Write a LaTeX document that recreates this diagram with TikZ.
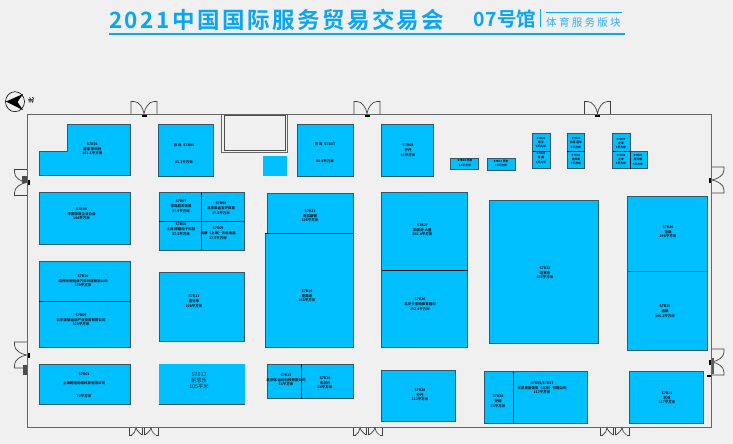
\documentclass[tikz,border=0pt]{standalone}
\usepackage{fontspec}
\setmainfont{Noto Sans CJK SC Bold}
\newfontfamily\cjkb[LetterSpace=11]{Noto Sans CJK SC Bold}
\newfontfamily\cjkc[LetterSpace=1]{Noto Sans CJK SC Bold}
\newfontfamily\cjkd[LetterSpace=22]{Noto Sans CJK SC}
\newfontfamily\cjkn{Noto Sans CJK SC}
\definecolor{bg}{HTML}{F0F0F0}
\definecolor{boothfill}{HTML}{00BFFF}
\definecolor{boothline}{HTML}{33566A}
\definecolor{titleblue}{HTML}{0AA5F5}
\definecolor{wallc}{HTML}{666666}
\tikzset{
  boothbox/.style={fill=boothfill,draw=boothline,line width=0.8pt},
  divider/.style={draw=black!80!boothline,line width=0.7pt},
  lab/.style={inner sep=0pt,align=center,text=black,font=\fontsize{3.5}{4.7}\selectfont},
  tinylab/.style={inner sep=0pt,align=center,text=black,font=\fontsize{2.8}{4.2}\selectfont},
  doorline/.style={draw=black!75,line width=0.7pt},
}
\newcommand{\dbldoor}[3]{%
  \begin{scope}[shift={(#1,#2)},rotate=#3]
    \draw[doorline] (-13,0) -- (-13,-13) -- (-10,-13) .. controls (-5,-13) and (-1,-7) .. (0,-1)
      .. controls (1,-7) and (5,-13) .. (10,-13) -- (13,-13) -- (13,0);
    \fill[black] (-2.5,0) rectangle (2.5,2.2);
  \end{scope}}
\newcommand{\botdoor}[2]{%
  \begin{scope}[shift={(#1,#2)}]
    \draw[doorline] (-14.5,0) -- (-14.5,7.5) -- (-12,7.5) (14.5,0) -- (14.5,7.5) -- (12,7.5);
    \draw[doorline] (-12,7.5) .. controls (-9,6) and (-8,3) .. (-7.5,0) .. controls (-7,3) and (-4,6) .. (-1,7.5);
    \draw[doorline] (1,7.5) .. controls (4,6) and (7,3) .. (7.5,0) .. controls (8,3) and (9,6) .. (12,7.5);
    \draw[doorline] (-1,0) -- (-1,7.5) (1,0) -- (1,7.5);
  \end{scope}}
\begin{document}
\begin{tikzpicture}[x=1pt,y=-1pt]
\useasboundingbox (0,0) rectangle (733,444);
\fill[bg] (0,0) rectangle (733,444);

% title
\node[anchor=west,inner sep=0pt,text=titleblue,font=\cjkb\fontsize{22.5}{22}\selectfont] (title) at (109,19.5) {2021中国国际服务贸易交易会};
\node[anchor=west,inner sep=0pt,text=titleblue,font=\cjkc\fontsize{19.5}{20}\selectfont] (hall) at (473.5,19) {07号馆};
\node[anchor=west,inner sep=0pt,text=titleblue!85,font=\cjkd\fontsize{10.5}{11}\selectfont] (sect) at (546,22) {体育服务版块};
\draw[titleblue,line width=0.7pt] (540,9) -- (540,27.5);
\draw[titleblue,line width=0.7pt] (546,12.3) -- (622,12.3);
\fill[titleblue] (109,32.6) rectangle (624.5,34.8);

% north mark
\draw[black,line width=0.6pt] (15,101.7) ellipse (9.5 and 10);
\fill[black] (6,101.5) -- (23,94) -- (17.5,102) -- (23,110) -- cycle;
\node[inner sep=0pt,rotate=90,font=\fontsize{6}{6}\selectfont] (north) at (31,100) {北};

% doors
\dbldoor{144}{114.5}{0}
\dbldoor{367}{114.5}{0}
\dbldoor{597.5}{114.5}{0}
\dbldoor{27.5}{182.5}{90}
\dbldoor{27.5}{355}{90}
\dbldoor{711}{180}{-90}
\dbldoor{711}{362}{-90}
\botdoor{143.5}{427.5}
\botdoor{367.5}{427.5}
\botdoor{614.5}{427.5}
\fill[black!70] (22.5,364.5) rectangle (26.5,375);
\fill[black!70] (22,176) rectangle (27,183);
\fill[black!65] (711,358) rectangle (714,374);
\fill[black] (707,375) rectangle (711,377);

% hall wall
\draw[wallc,line width=0.8pt] (27.5,114.5) rectangle (711,427.5);

% lift block
\draw[black!60,line width=0.9pt] (221.7,114.5) rectangle (287.7,152);
\draw[black!70,line width=0.9pt] (224,115.5) rectangle (285.7,150.5);
\fill[boothfill] (263,156) rectangle (287,175.7);

% booths
\draw[boothbox] (67.7,124) -- (130.7,124) -- (130.7,175.7) -- (39,175.7) -- (39,151) -- (67.7,151) -- cycle;
\node[lab] (b1) at (92.3,149) {S7B03\\富隆 斯科特\\101.5平方米};

\draw[boothbox] (158.7,124) rectangle (213,176);
\node[lab] (b2) at (184,153.5) {青 岛\ \ S7B05\\[12pt]81.3平方米};

\draw[boothbox] (39,192.7) rectangle (130.7,244.5);
\node[lab] (b3) at (81.5,214) {S7B04\\中国体育企业协会\\144平方米};

\draw[boothbox] (159,192.7) rectangle (244.7,250);
\draw[divider] (201.7,192.7) -- (201.7,250) (159,221) -- (244.7,221);
\node[lab] (b4) at (181,206.5) {S7B07\\青岛航天体育\\37.5平方米};
\node[lab] (b5) at (221,208.5) {S7B08\\北京奥运五环体育\\37.5平方米};
\node[lab] (b6) at (181,229.5) {S7B06\\上海 博路电子科技\\37.5平方米};
\node[lab] (b7) at (218,233.5) {S7B09\\奥康（上海）体育用品\\37.5平方米};

\draw[boothbox] (39,261.7) rectangle (130.7,347.3);
\draw[divider] (39,301.3) -- (130.7,301.3);
\node[lab] (b8) at (83,281) {S7B10\\温州光明铝业汽车制造有限公司\\120平方米};
\node[lab] (b9) at (81,320) {S7B09\\北京涂康运动产业投资有限公司\\120平方米};

\draw[boothbox] (159,272.7) rectangle (244.7,341.5);
\node[lab] (b10) at (194,301.5) {S7B11\\履行乐\\108平方米};

\draw[boothbox] (39,364.3) rectangle (130.7,404.5);
\node[lab] (b11) at (84,385.5) {S7B01\\[4pt]上海跑啦网络科技有限公司\\[9pt]72平方米};

\fill[boothfill] (159,364) rectangle (244.7,404.5);
\draw[black!70,line width=0.7pt] (159,404.5) -- (244.7,404.5);
\node[inner sep=0pt,align=center,text=black!80!boothfill,font=\cjkn\fontsize{5.3}{6}\selectfont] (b12) at (199,380.3) {S7012\\耐思乐\\105平米};

\draw[boothbox] (297.7,124.5) rectangle (353.5,176);
\node[lab] (b13) at (325,153) {青 岛\ \ S7B07\\[12pt]84.4平方米};

\draw[boothbox] (381.5,124.5) rectangle (433,176);
\node[lab] (b14) at (408,150.5) {S7B08\\乔丹\\81平方米};

\draw[boothbox] (450,158) rectangle (478.7,169.7);
\node[tinylab] (b15) at (465,163) {S7B20 燕京\\10平方米};
\draw[boothbox] (487,158) rectangle (515.7,170);
\node[tinylab] (b16) at (501,163.5) {S7B21 燕京\\10平方米};

% small cluster
\draw[boothbox] (532.5,133.5) rectangle (550,168.5);
\draw[divider] (532.5,151) -- (550,151);
\node[tinylab] (c1) at (541,142.5) {S7B22\\霸王\\9平方米};
\node[tinylab] (c2) at (541,158) {S7B23\\金 鑫\\9平方米};
\draw[boothbox] (567,133.5) rectangle (584.5,168.5);
\draw[divider] (567,151) -- (584.5,151);
\node[tinylab] (c3) at (576,143) {S7B24\\凯恩 星球\\9平方米};
\node[tinylab] (c4) at (576,159.5) {S7B25\\启东街\\9平方米};
\draw[boothbox] (612.5,133.5) -- (630,133.5) -- (630,151) -- (647.5,151) -- (647.5,168.5) -- (612.5,168.5) -- cycle;
\draw[divider] (612.5,151) -- (630,151) -- (630,168.5);
\node[tinylab] (c5) at (621,143.5) {S7B27\\企丰\\9平方米};
\node[tinylab] (c6) at (621,159.5) {S7B28\\企丰\\9平方米};
\node[tinylab] (c7) at (638,160) {S7B29\\巨无霸\\9平方米};

\draw[boothbox] (267,193) rectangle (353,233.5);
\node[lab] (b17) at (310,216) {S7B31\\克拉斯顿\\108平方米};
\draw[boothbox] (265.3,233.5) rectangle (353,347.5);
\draw[divider] (265.3,233.5) -- (353,233.5);
\node[lab] (b18) at (307,296) {S7B30\\斯凯奇\\288平方米};

\draw[boothbox] (381.5,192.7) rectangle (467.5,270);
\node[lab] (b19) at (422.5,230) {S7B27\\斯凯奇 大童\\202.4平方米};
\draw[boothbox] (381.5,270) rectangle (467.5,347.5);
\draw[divider] (381.5,270) -- (467.5,270);
\node[lab] (b20) at (420,304.5) {S7B26\\北京卡宝地体育器材\\202.4平方米};

\draw[boothbox] (489.7,200.7) rectangle (598.7,343.3);
\node[lab] (b21) at (545,273) {S7B32\\迈克菲\\456平方米};

\draw[boothbox] (627,196.7) rectangle (707,271);
\draw[boothbox] (627,271) rectangle (707,350.7);
\node[lab] (b22) at (668,232) {S7B36\\迪桑\\196平方米};
\node[lab] (b23) at (665,311.5) {S7B35\\迪桑\\196.2平方米};

\draw[boothbox] (267,364.3) rectangle (353,398.7);
\draw[divider] (301.7,364.3) -- (301.7,398.7);
\node[lab] (b24) at (286,380) {S7B13\\北京体 运动科技有限公司\\36平方米};
\node[lab] (b25) at (325,383) {S7B14\\东润兴\\54平方米};

\draw[boothbox] (381,370) rectangle (455.3,421.7);
\node[lab] (b26) at (420,395) {S7B28\\乔丹\\112平方米};

\draw[boothbox] (484.7,371.7) rectangle (587.7,423.3);
\draw[divider] (513.3,371.7) -- (513.3,423.3);
\node[lab] (b27) at (498,401.5) {S7B34\\安踏\\45平方米};
\node[lab] (b28) at (542,388) {S7B35/S7B37\\尤尼克斯体育（北京）有限公司\\117平方米};

\draw[boothbox] (629,371.7) rectangle (703.5,423.3);
\node[lab] (b29) at (667,398) {S7B33\\匹克\\117平方米};
\end{tikzpicture}
\end{document}
